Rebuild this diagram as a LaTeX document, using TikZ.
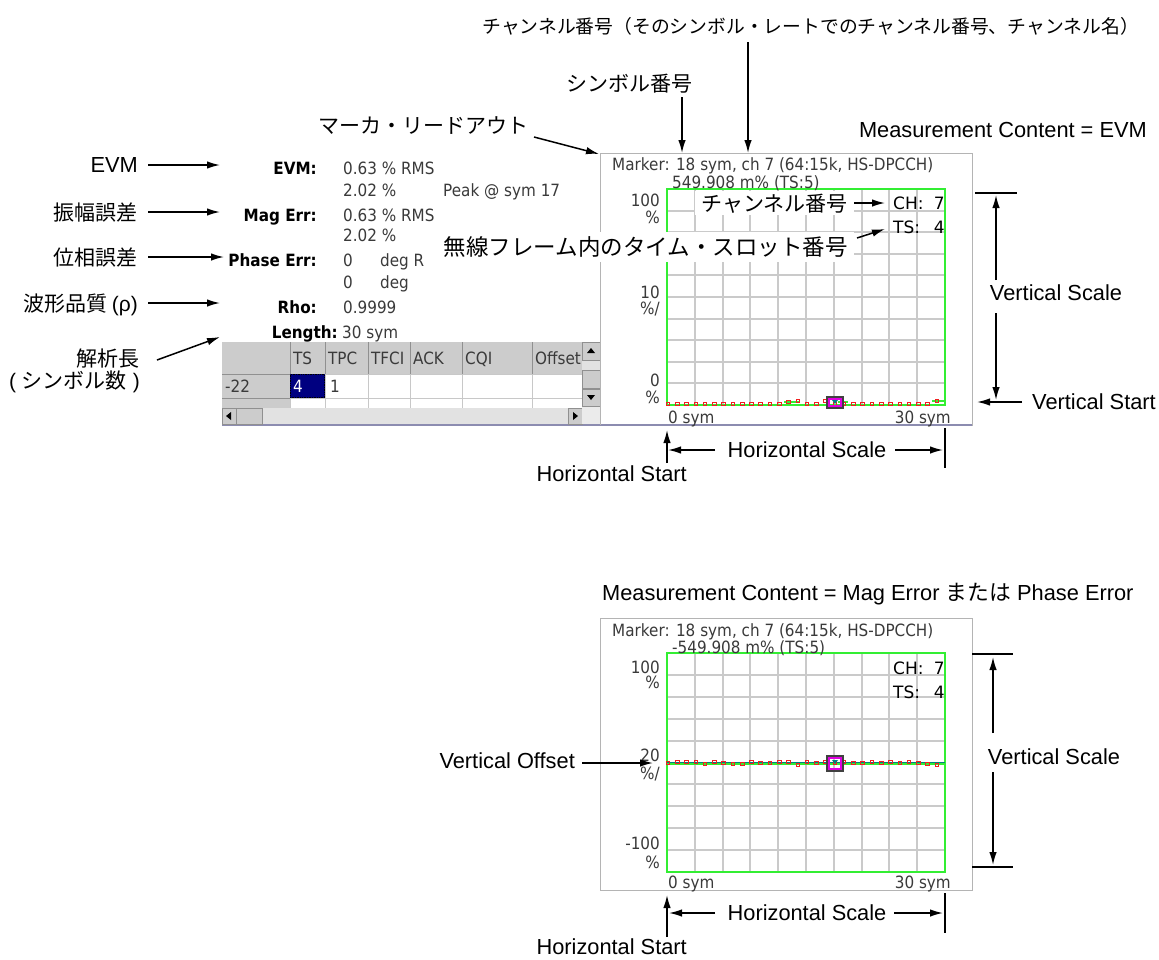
\documentclass[tikz,border=0pt]{standalone}
\usepackage{fontspec}
\setmainfont{Liberation Sans}
\newfontfamily\jp{Noto Sans CJK JP}
\newfontfamily\ui{DejaVu Sans}[FakeStretch=0.9]
\newfontfamily\uiw{DejaVu Sans}
\usetikzlibrary{arrows.meta}
\definecolor{gridc}{HTML}{CACACA}
\definecolor{greenc}{HTML}{33EE33}
\definecolor{uitext}{HTML}{3A3A3A}
\definecolor{panelb}{HTML}{B4B4B4}
\definecolor{pbot}{HTML}{8C8CB0}
\definecolor{hdr}{HTML}{CCCCCC}
\definecolor{sepc}{HTML}{909090}
\definecolor{cellc}{HTML}{C8C8C8}
\definecolor{track}{HTML}{E2E2E2}
\definecolor{navyc}{HTML}{000080}
\definecolor{magc}{HTML}{E000E0}
\definecolor{redc}{HTML}{F02020}
\definecolor{tealc}{HTML}{008080}
\definecolor{dgray}{HTML}{404040}
\tikzset{
  en/.style={font=\fontsize{21.8}{26}\selectfont, inner sep=0pt, text height=15.6pt, text depth=0pt},
  jpl/.style={font=\jp\fontsize{21}{25}\selectfont, inner sep=0pt, text height=16pt, text depth=0pt},
  jpt/.style={font=\jp\fontsize{18.8}{22}\selectfont, inner sep=0pt, text height=14.3pt, text depth=0pt},
  jpw/.style={font=\jp\fontsize{22.5}{26}\selectfont, inner sep=0pt, text height=17.1pt, text depth=0pt},
  uit/.style={font=\ui\fontsize{16.9}{20}\selectfont, text=uitext, inner sep=0pt, text height=12.3pt, text depth=0pt},
  uib/.style={font=\ui\bfseries\fontsize{16.9}{20}\selectfont, text=black, inner sep=0pt, text height=12.3pt, text depth=0pt},
  chts/.style={font=\uiw\fontsize{17}{20}\selectfont, text=black, inner sep=0pt, text height=12.4pt, text depth=0pt},
  ann/.style={line width=1.5pt, -{Latex[length=13pt,width=7.5pt]}},
  barl/.style={line width=1.5pt},
  gridl/.style={gridc, line width=1.4pt},
  sq/.style={redc, line width=0.9pt},
}
\begin{document}
\begin{tikzpicture}[x=1pt,y=-1pt]
\useasboundingbox (0,0) rectangle (1159,959);
\fill[white] (0,0) rectangle (1159,959);

% ---------- top annotations ----------
\node[jpt, anchor=east] (chtop) at (1139,26) {チャンネル番号（そのシンボル・レートでのチャンネル番号、チャンネル名）};
\node[jpl] (symlab) at (629,83) {シンボル番号};
\node[jpl, anchor=east] (mklab) at (529,125) {マーカ・リードアウト};
\node[en, anchor=east] (mc1) at (1147,130) {Measurement Content = EVM};

% ---------- top panel ----------
\draw[panelb, fill=white, line width=1pt] (600,153) rectangle (972,425);
\draw[pbot, line width=1.2pt] (222,425) -- (972,425);
\foreach \x in {695,723,750,778,806,834,862,889,917} {
  \draw[gridl] (\x,189) -- (\x,405);
}
\foreach \y in {211,232,254,275,297,319,340,362,383} {
  \draw[gridl] (667,\y) -- (945,\y);
}
\draw[greenc, line width=2pt] (667,189) rectangle (945,405);
\draw[greenc, line width=1.2pt] (784,402) -- (800,402) (838,402) -- (848,402) (932,401) -- (945,401);
\foreach \dy [count=\i from 0] in {0,0,0,0,0,0,0,0,0,0,0,0,0,-2,-3,0,0,-3,0,0,0,0,0,0,0,0,0,0,0,-3} {
  \draw[sq] ({668+\i*9.27-1.8},{404+\dy-1.8}) rectangle ++(3.6,3.6);
}
\draw[dgray, line width=1.2pt] (827,397) rectangle (843,408);
\draw[magc, line width=1.5pt] (828.8,398.8) rectangle (841.2,406.2);
\fill[tealc] (832,400) -- (838,400) -- (835,404) -- cycle;

\node[uit, anchor=west] (mk1) at (612,164) {Marker: 18 sym, ch 7 (64:15k, HS-DPCCH)};
\node[uit, anchor=west] (mk2) at (672,182) {549.908 m\% (TS:5)};
\node[uit, anchor=east] (y1a) at (660,200) {100};
\node[uit, anchor=east] (y1b) at (660,217) {\%};
\node[uit, anchor=east] (y2a) at (660,292) {10};
\node[uit, anchor=east] (y2b) at (660,308) {\%/};
\node[uit, anchor=east] (y3a) at (660,380) {0};
\node[uit, anchor=east] (y3b) at (660,397) {\%};
\node[uit, anchor=west] (x1a) at (668,417) {0 sym};
\node[uit, anchor=east] (x1b) at (951,417) {30 sym};

\node[chts, anchor=west] (ch1) at (893,203) {CH:};
\node[chts, anchor=east] (ch1v) at (945,203) {7};
\node[chts, anchor=west] (ts1) at (893,227) {TS:};
\node[chts, anchor=east] (ts1v) at (945,227) {4};

\node[jpl, anchor=east, fill=white, inner xsep=6pt, inner ysep=4pt] (chlab) at (854,203) {チャンネル番号};
\node[jpw, anchor=east, fill=white, inner xsep=6pt, inner ysep=6pt] (tslab) at (854,247) {無線フレーム内のタイム・スロット番号};
\coordinate (chtip) at (885,203);
\coordinate (tstip) at (885,229);
\coordinate (tstail) at (857,238);
\draw[ann] (chlab.east) -- (chtip);
\draw[ann] (tstail) -- (tstip);

% leader arrows from top
\coordinate (chA) at (748,42);  \coordinate (chB) at (748,153);
\coordinate (syA) at (682,97);  \coordinate (syB) at (682,153);
\coordinate (mkA) at (534,137); \coordinate (mkB) at (599,154);
\draw[ann] (chA) -- (chB);
\draw[ann] (syA) -- (syB);
\draw[ann] (mkA) -- (mkB);

% vertical scale (top)
\coordinate (vt1) at (975,193); \coordinate (vt2) at (1017,193);
\draw[barl] (vt1) -- (vt2);
\node[en] (vs1) at (1056,293) {Vertical Scale};
\coordinate (vsA) at (996,280); \coordinate (vsB) at (996,195);
\coordinate (vsC) at (996,313); \coordinate (vsD) at (996,400);
\draw[ann] (vsA) -- (vsB);
\draw[ann] (vsC) -- (vsD);
\node[en, anchor=west] (vst) at (1032,402) {Vertical Start};
\coordinate (vstA) at (1022,402); \coordinate (vstB) at (977,402);
\draw[ann] (vstA) -- (vstB);

% horizontal scale (top)
\node[en] (hs1) at (807,450) {Horizontal Scale};
\coordinate (hsA) at (715,450); \coordinate (hsB) at (668,450);
\coordinate (hsC) at (895,450); \coordinate (hsD) at (943,450);
\draw[ann] (hsA) -- (hsB);
\draw[ann] (hsC) -- (hsD);
\coordinate (hb1) at (945,428); \coordinate (hb2) at (945,468);
\draw[barl] (hb1) -- (hb2);
\node[en, anchor=east] (hst1) at (687,474) {Horizontal Start};
\coordinate (hstA) at (667,463); \coordinate (hstB) at (667,430);
\draw[ann] (hstA) -- (hstB);

% ---------- left measurement readout ----------
\node[uib, anchor=east] (l1) at (317,168) {EVM:};
\node[uib, anchor=east] (l2) at (317,215) {Mag Err:};
\node[uib, anchor=east] (l3) at (317,260) {Phase Err:};
\node[uib, anchor=east] (l4) at (317,307) {Rho:};
\node[uib, anchor=east] (l5) at (338,332) {Length:};
\node[uit, anchor=west] (v1) at (343,168) {0.63 \% RMS};
\node[uit, anchor=west] (v2) at (343,190) {2.02 \%};
\node[uit, anchor=west] (v2p) at (443,190) {Peak @ sym 17};
\node[uit, anchor=west] (v3) at (343,215) {0.63 \% RMS};
\node[uit, anchor=west] (v4) at (343,235) {2.02 \%};
\node[uit, anchor=west] (v5) at (343,260) {0};
\node[uit, anchor=west] (v5u) at (380,260) {deg R};
\node[uit, anchor=west] (v6) at (343,282) {0};
\node[uit, anchor=west] (v6u) at (380,282) {deg};
\node[uit, anchor=west] (v7) at (343,307) {0.9999};
\node[uit, anchor=west] (v8) at (342,332) {30 sym};

% left labels
\node[en, anchor=east] (a1) at (138,165) {EVM};
\node[jpl, anchor=east] (a2) at (138,212) {振幅誤差};
\node[jpl, anchor=east] (a3) at (138,257) {位相誤差};
\node[jpl, anchor=east] (a4) at (138,303) {波形品質 {\normalfont(ρ)}};
\node[jpl, anchor=east] (a5) at (140,358) {解析長};
\node[jpl, anchor=east] (a6) at (140,380) {{\normalfont( }シンボル数{\normalfont\ )}};
\coordinate (a1t) at (220,165);
\coordinate (a2t) at (220,212);
\coordinate (a3t) at (224,257);
\coordinate (a4t) at (220,303);
\coordinate (a5s) at (157,360); \coordinate (a5t) at (220,337);
\draw[ann] ([xshift=10pt]a1.east) -- (a1t);
\draw[ann] ([xshift=10pt]a2.east) -- (a2t);
\draw[ann] ([xshift=10pt]a3.east) -- (a3t);
\draw[ann] ([xshift=10pt]a4.east) -- (a4t);
\draw[ann] (a5s) -- (a5t);

% ---------- table ----------
\fill[hdr] (222,342) rectangle (582,374);
\fill[hdr] (222,374) rectangle (290,408);
\fill[white] (290,374) rectangle (582,408);
\foreach \x in {290,325,368,410,462,532} {
  \draw[sepc, line width=0.8pt] (\x,342) -- (\x,374);
  \draw[cellc, line width=0.8pt] (\x,374) -- (\x,408);
}
\draw[sepc, line width=0.8pt] (222,374) -- (290,374);
\draw[cellc, line width=0.8pt] (290,374) -- (582,374) (290,398) -- (582,398);
\draw[sepc, line width=0.8pt] (222,398) -- (290,398);
\fill[navyc] (290,374) rectangle (325,398);
\draw[black, densely dotted, line width=0.7pt] (290.6,374.6) rectangle (324.4,397.4);
\node[uit, anchor=west] (h1) at (293,358) {TS};
\node[uit, anchor=west] (h2) at (328,358) {TPC};
\node[uit, anchor=west] (h3) at (371,358) {TFCI};
\node[uit, anchor=west] (h4) at (413,358) {ACK};
\node[uit, anchor=west] (h5) at (465,358) {CQI};
\node[uit, anchor=west] (h6) at (535,358) {Offset};
\node[uit, anchor=west] (r1) at (225,386) {-22};
\node[uit, anchor=west, text=white] (r2) at (293,386) {4};
\node[uit, anchor=west] (r3) at (330,386) {1};
% horizontal scrollbar
\fill[track] (222,408) rectangle (582,424);
\draw[sepc, fill=hdr, line width=0.8pt] (222,408) rectangle (236,424);
\draw[sepc, fill=hdr, line width=0.8pt] (236,408) rectangle (262,424);
\draw[sepc, fill=hdr, line width=0.8pt] (568,408) rectangle (582,424);
\fill[black] (226,416) -- (231,412) -- (231,420) -- cycle;
\fill[black] (578,416) -- (573,412) -- (573,420) -- cycle;
% vertical scrollbar
\fill[track] (582,342) rectangle (600,424);
\draw[sepc, fill=hdr, line width=0.8pt] (582,342) rectangle (600,360);
\draw[sepc, fill=hdr, line width=0.8pt] (582,370) rectangle (600,388);
\draw[sepc, fill=hdr, line width=0.8pt] (582,389) rectangle (600,406);
\fill[white!92!black] (582,407) rectangle (600,424);
\fill[black] (591,348) -- (587,353) -- (595,353) -- cycle;
\fill[black] (591,400) -- (587,395) -- (595,395) -- cycle;
\draw[panelb, line width=1pt] (600,342) -- (600,425);

% ---------- bottom panel ----------
\node[en, anchor=west] (mc2) at (602,593) {Measurement Content = Mag Error {\jp または} Phase Error};
\draw[panelb, fill=white, line width=1pt] (600,618) rectangle (972,890);
\foreach \x in {695,723,750,778,806,834,862,889,917} {
  \draw[gridl] (\x,653) -- (\x,872);
}
\foreach \y in {675,697,719,741,763,784,806,828,850} {
  \draw[gridl] (667,\y) -- (945,\y);
}
\draw[greenc, line width=2pt] (667,653) rectangle (945,872);
\draw[tealc, line width=1pt] (667,762) -- (945,762);
\draw[greenc, line width=1.3pt] (667,764) -- (945,764);
\foreach \dy [count=\i from 0] in {0,-1,-1,-1,1,-1,0,1,1,-1,0,0,-1,-1,2,-1,0,-1,0,-1,0,0,-1,0,-1,0,-1,0,1,2} {
  \draw[sq] ({668+\i*9.27-1.8},{763+\dy-1.8}) rectangle ++(3.6,3.6);
}
\draw[dgray, line width=1.2pt] (827,756) rectangle (843,771);
\draw[magc, line width=1.5pt] (828.8,757.8) rectangle (841.2,769.2);
\fill[tealc] (832,760) -- (838,760) -- (835,764) -- cycle;

\node[uit, anchor=west] (mk3) at (612,630) {Marker: 18 sym, ch 7 (64:15k, HS-DPCCH)};
\node[uit, anchor=west] (mk4) at (672,647) {-549.908 m\% (TS:5)};
\node[uit, anchor=east] (z1a) at (660,667) {100};
\node[uit, anchor=east] (z1b) at (660,682) {\%};
\node[uit, anchor=east] (z2a) at (660,755) {20};
\node[uit, anchor=east] (z2b) at (660,773) {\%/};
\node[uit, anchor=east] (z3a) at (660,843) {-100};
\node[uit, anchor=east] (z3b) at (660,862) {\%};
\node[uit, anchor=west] (w1a) at (668,882) {0 sym};
\node[uit, anchor=east] (w1b) at (951,882) {30 sym};
\node[chts, anchor=west] (ch2) at (893,668) {CH:};
\node[chts, anchor=east] (ch2v) at (945,668) {7};
\node[chts, anchor=west] (ts2) at (893,692) {TS:};
\node[chts, anchor=east] (ts2v) at (945,692) {4};

% vertical offset
\node[en, anchor=east] (voff) at (575,761) {Vertical Offset};
\coordinate (voT) at (653,763);
\draw[ann] ([xshift=7pt]voff.east |- voT) -- (voT);

% vertical scale (bottom)
\coordinate (vb1) at (972,654); \coordinate (vb2) at (1013,654);
\coordinate (vb3) at (972,867); \coordinate (vb4) at (1013,867);
\draw[barl] (vb1) -- (vb2);
\draw[barl] (vb3) -- (vb4);
\node[en] (vs2) at (1054,757) {Vertical Scale};
\coordinate (vbA) at (993,733); \coordinate (vbB) at (993,657);
\coordinate (vbC) at (993,772); \coordinate (vbD) at (993,865);
\draw[ann] (vbA) -- (vbB);
\draw[ann] (vbC) -- (vbD);

% horizontal scale (bottom)
\node[en] (hs2) at (807,913) {Horizontal Scale};
\coordinate (h2A) at (715,913); \coordinate (h2B) at (669,913);
\coordinate (h2C) at (894,913); \coordinate (h2D) at (943,913);
\draw[ann] (h2A) -- (h2B);
\draw[ann] (h2C) -- (h2D);
\coordinate (hb3) at (945,893); \coordinate (hb4) at (945,933);
\draw[barl] (hb3) -- (hb4);
\node[en, anchor=east] (hst2) at (687,947) {Horizontal Start};
\coordinate (h2sA) at (667,937); \coordinate (h2sB) at (667,895);
\draw[ann] (h2sA) -- (h2sB);
\end{tikzpicture}
\end{document}
